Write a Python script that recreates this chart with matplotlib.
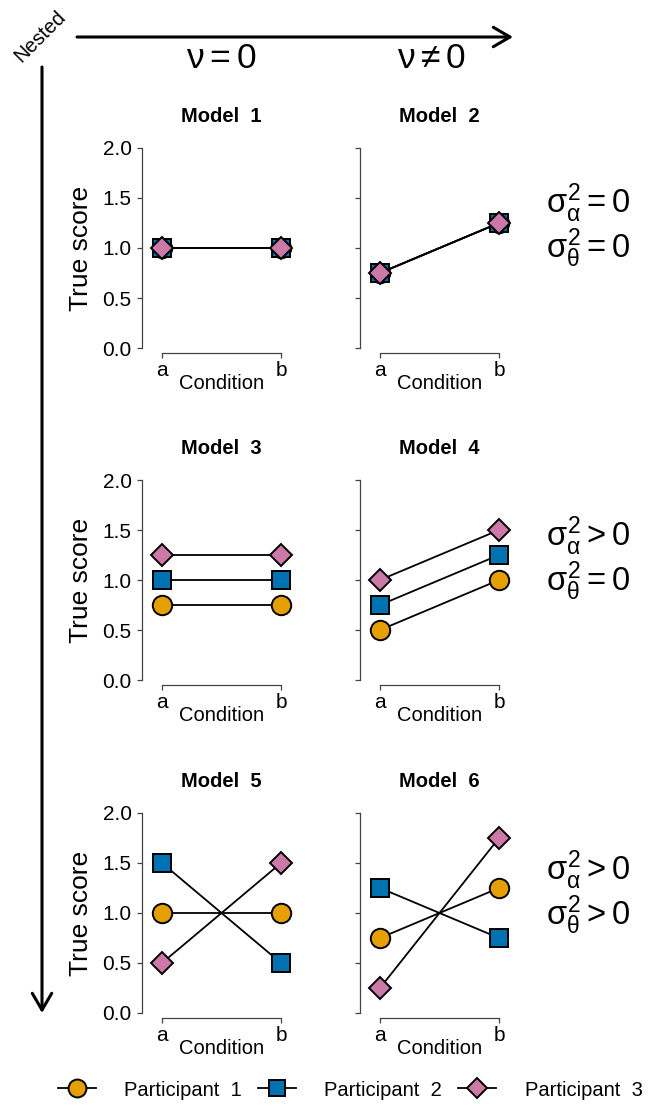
import matplotlib.pyplot as plt
from matplotlib.lines import Line2D
from matplotlib.ticker import FormatStrFormatter

plt.rcParams['font.family'] = ['Liberation Sans', 'DejaVu Sans']
plt.rcParams['mathtext.fontset'] = 'custom'
plt.rcParams['mathtext.rm'] = 'Liberation Sans'
plt.rcParams['mathtext.it'] = 'Liberation Sans'
plt.rcParams['mathtext.bf'] = 'Liberation Sans:bold'

# data
conditions = ['a', 'b']
models = ['Model  1', 'Model  2', 'Model  3', 'Model  4', 'Model  5', 'Model  6']
participants = ['Participant  1', 'Participant  2', 'Participant  3']
p1 = [[1.0, 1.0], [0.75, 1.25], [0.75, 0.75], [0.5, 1.0], [1.0, 1.0], [0.75, 1.25]]
p2 = [[1.0, 1.0], [0.75, 1.25], [1.0, 1.0], [0.75, 1.25], [1.5, 0.5], [1.25, 0.75]]
p3 = [[1.0, 1.0], [0.75, 1.25], [1.25, 1.25], [1.0, 1.5], [0.5, 1.5], [0.25, 1.75]]
yticks = [0.0, 0.5, 1.0, 1.5, 2.0]
col_labels = [r'$\nu = 0$', r'$\nu \neq 0$']
row_labels = [
    (r'$\sigma^2_\alpha = 0$', r'$\sigma^2_\theta = 0$'),
    (r'$\sigma^2_\alpha > 0$', r'$\sigma^2_\theta = 0$'),
    (r'$\sigma^2_\alpha > 0$', r'$\sigma^2_\theta > 0$'),
]

colors = ['#E69F00', '#0072B2', '#CC79A7']
markers = ['o', 's', 'D']
msizes = [14, 12.5, 11.5]
spine_col = '#444444'

W, H = 651, 1108
fig = plt.figure(figsize=(W / 100, H / 100), dpi=100)


def fx(x):
    return x / W


def fy(y):
    return 1 - y / H


col_left = [142, 360]
row_bottom = [353, 685, 1018]
ax_w = 159
ax_h = 210

series = [p1, p2, p3]
for i in range(6):
    r, c = divmod(i, 2)
    ax = fig.add_axes([fx(col_left[c]), fy(row_bottom[r]), ax_w / W, ax_h / H])
    xs = range(len(conditions))
    for s in series:
        ax.plot(xs, s[i], color='black', lw=1.3, zorder=2)
    for s, col, m, ms in zip(series, colors, markers, msizes):
        ax.plot(xs, s[i], ls='none', marker=m, ms=ms, mfc=col, mec='black',
                mew=1.4, zorder=3, clip_on=False)
    ax.set_xlim(-0.168, 1.168)
    ax.set_ylim(-0.05, 2.05)
    for side in ['top', 'right']:
        ax.spines[side].set_visible(False)
    ax.spines['left'].set_bounds(0, 2)
    ax.spines['bottom'].set_bounds(0, 1)
    for side in ['left', 'bottom']:
        ax.spines[side].set_color(spine_col)
        ax.spines[side].set_linewidth(0.9)
    ax.set_xticks(list(xs))
    ax.set_xticklabels(conditions)
    ax.set_yticks(yticks)
    ax.yaxis.set_major_formatter(FormatStrFormatter('%.1f'))
    ax.tick_params(axis='both', colors=spine_col, labelcolor='black',
                   labelsize=15, length=3.5, width=0.9)
    ax.tick_params(axis='y', pad=4)
    ax.tick_params(axis='x', pad=2.5)
    ax.set_xlabel('Condition', fontsize=14.5)
    ax.xaxis.set_label_coords(0.5, -0.145)
    ax.xaxis.label.set_va('center')
    if c == 0:
        ax.set_ylabel('True score', fontsize=19)
        ax.yaxis.set_label_coords(-0.384, 0.5)
        ax.yaxis.label.set_va('center')
    else:
        ax.set_yticklabels([])
    ax.set_title(models[i], fontsize=14.5, fontweight='bold', pad=15)

# overlay for arrows and annotations
ov = fig.add_axes([0, 0, 1, 1], zorder=-1)
ov.set_xlim(0, W)
ov.set_ylim(H, 0)
ov.axis('off')
arrow = dict(arrowstyle='->,head_length=0.6,head_width=0.35', lw=2.2,
             color='black', mutation_scale=20, shrinkA=0, shrinkB=0)
ov.annotate('', xy=(513, 37), xytext=(77, 37), arrowprops=arrow)
ov.annotate('', xy=(42, 1013), xytext=(42, 67), arrowprops=arrow)
ov.text(40, 36, 'Nested', rotation=45, ha='center', va='center', fontsize=14.5)

for x, lab in zip([221, 432], col_labels):
    ov.text(x, 58, lab, ha='center', va='center', fontsize=25.5)

for r, (l1, l2) in enumerate(row_labels):
    base = 213 + 333.5 * r
    ov.text(546, base, l1, ha='left', va='baseline', fontsize=23.5)
    ov.text(546, base + 45, l2, ha='left', va='baseline', fontsize=23.5)

handles = [Line2D([], [], color='black', lw=1.3, marker=m, ms=ms * 0.92, mfc=col,
                  mec='black', mew=1.4)
           for col, m, ms in zip(colors, markers, msizes)]
fig.legend(handles, participants, loc='center', ncol=3, frameon=False,
           bbox_to_anchor=(fx(350), fy(1090)), fontsize=14.5,
           handlelength=1.9, handletextpad=1.4, columnspacing=0.8, borderpad=0)

fig.savefig('out.png', dpi=100)
